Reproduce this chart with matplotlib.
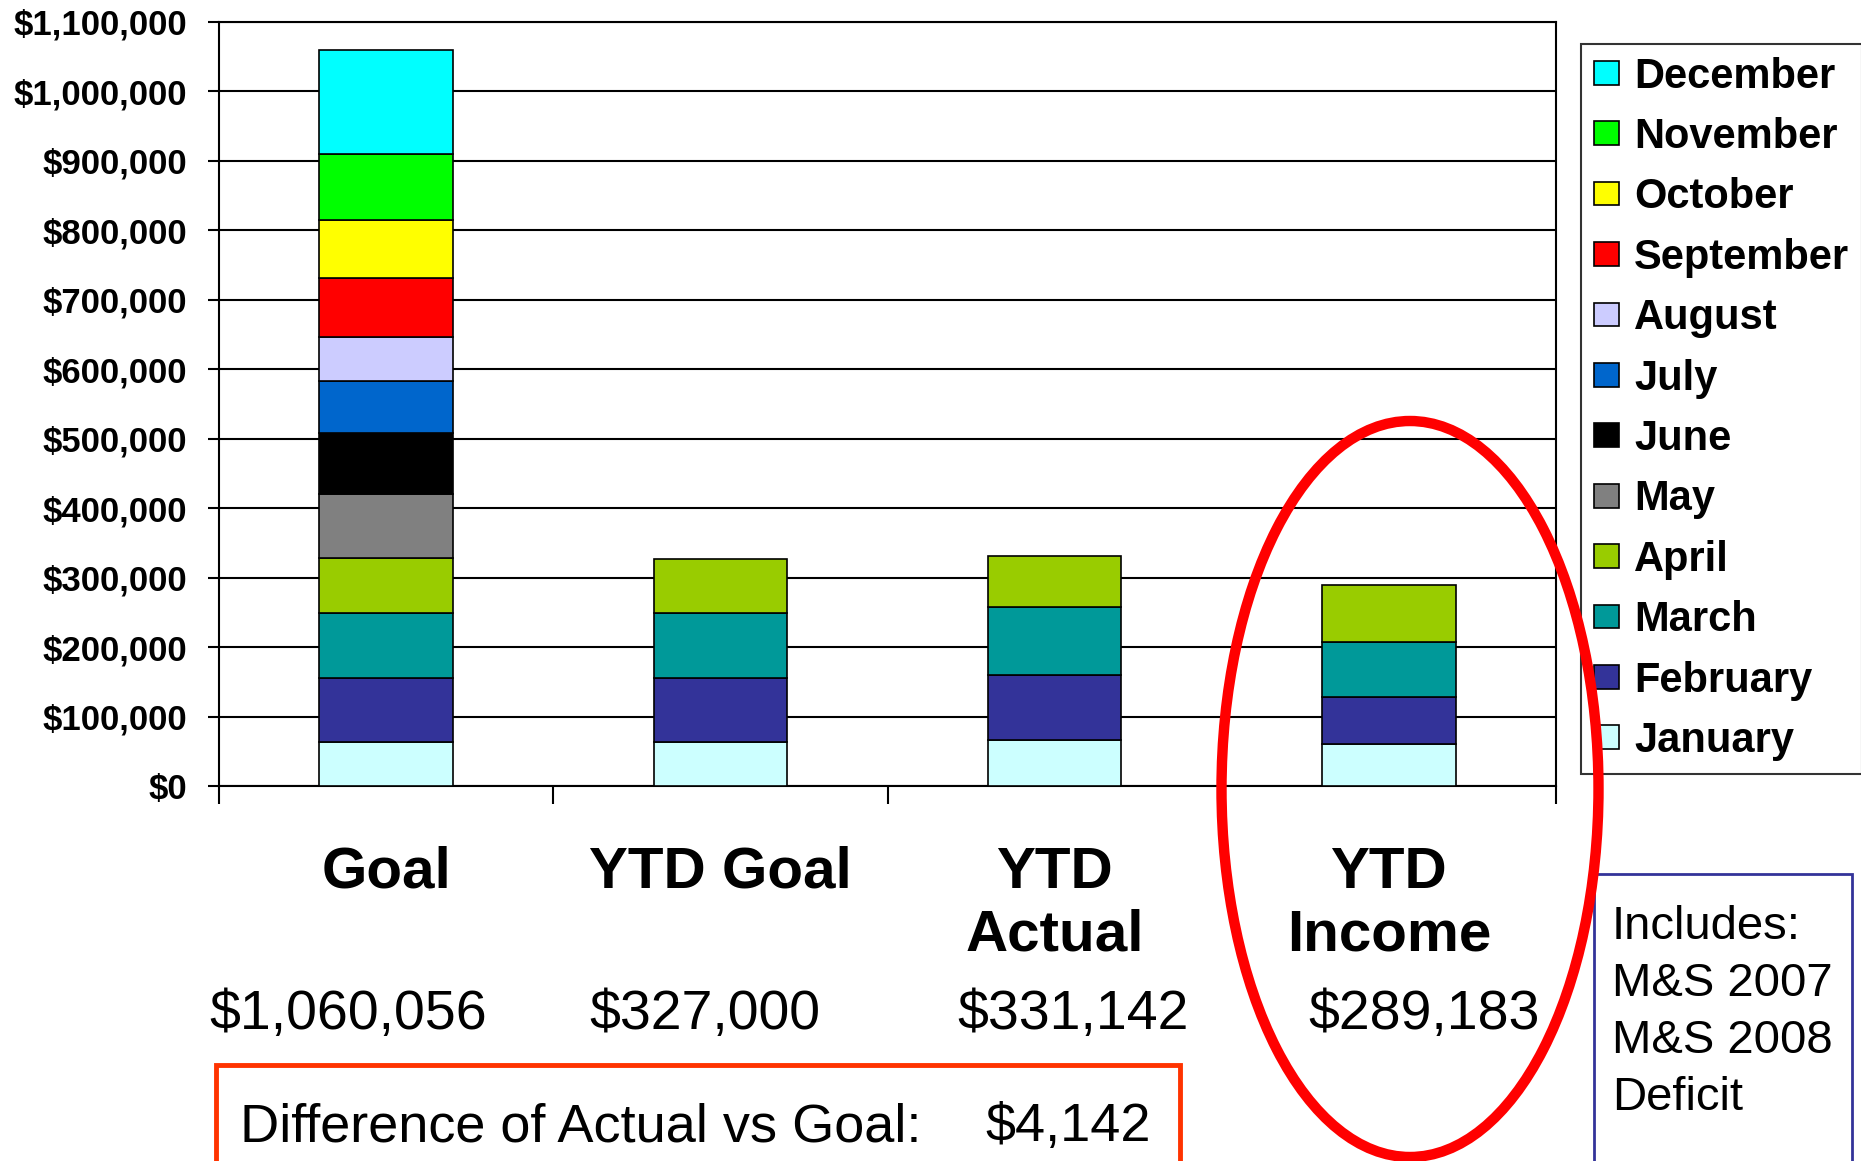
import matplotlib
matplotlib.use("Agg")
import matplotlib.pyplot as plt
from matplotlib.patches import Patch, Rectangle, Ellipse
from matplotlib.ticker import FuncFormatter

# --- DATA ---
MONTHS = ["January", "February", "March", "April", "May", "June",
          "July", "August", "September", "October", "November", "December"]
COLORS = ["#CCFFFF", "#333399", "#009999", "#99CC00", "#808080", "#000000",
          "#0066CC", "#CCCCFF", "#FF0000", "#FFFF00", "#00FF00", "#00FFFF"]

CATEGORIES = ["Goal", "YTD Goal", "YTD\nActual", "YTD\nIncome"]
TOTAL_LABELS = ["$1,060,056", "$327,000", "$331,142", "$289,183"]

goal = [64000, 92000, 93000, 79000, 92000, 88000, 75000, 64000, 85000, 83000, 95000, 150056]
ytd_goal = [64000, 92000, 93000, 78000]
ytd_actual = [66000, 94000, 98000, 73142]
ytd_income = [60000, 68000, 79000, 82183]

DIFF_TEXT = "Difference of Actual vs Goal:"
DIFF_VALUE = "$4,142"
NOTE_TEXT = "Includes:\nM&S 2007\nM&S 2008\nDeficit"

# --- LAYOUT (pixels of the 1861x1161 canvas) ---
W, H = 1861, 1161
FONT = "Liberation Sans"


def fx(x):
    return x / W


def fy(y):
    return 1 - y / H


plt.rcParams["font.family"] = [FONT, "DejaVu Sans"]

fig = plt.figure(figsize=(W / 100, H / 100), dpi=100)
ax = fig.add_axes([fx(219), fy(786), (1556 - 219) / W, (786 - 22) / H])

# stack the bars month by month
series = [goal, ytd_goal, ytd_actual, ytd_income]
bottoms = [0.0] * len(series)
for m, (month, color) in enumerate(zip(MONTHS, COLORS)):
    xs, hs, bs = [], [], []
    for i, s in enumerate(series):
        if m < len(s):
            xs.append(i)
            hs.append(s[m])
            bs.append(bottoms[i])
            bottoms[i] += s[m]
    if xs:
        ax.bar(xs, hs, bottom=bs, width=0.4, color=color,
               edgecolor="black", linewidth=1.2, zorder=3)

ax.set_xlim(-0.5, 3.5)
ax.set_ylim(0, 1100000)
ax.set_yticks(range(0, 1100001, 100000))
ax.yaxis.set_major_formatter(FuncFormatter(lambda v, p: f"${v:,.0f}"))
ax.grid(axis="y", color="black", linewidth=1.5, zorder=0)
ax.set_axisbelow(True)

for sp in ax.spines.values():
    sp.set_linewidth(1.5)
    sp.set_color("black")

ax.tick_params(axis="y", direction="out", length=8, width=1.5, pad=15,
               labelsize=25)
for lab in ax.get_yticklabels():
    lab.set_fontweight("bold")

# category labels under the bars, boundary ticks between them
ax.set_xticks(range(len(CATEGORIES)))
ax.set_xticklabels(CATEGORIES, fontsize=42, fontweight="bold", linespacing=1.2)
ax.tick_params(axis="x", which="major", length=0, pad=43)
ax.set_xticks([-0.5, 0.5, 1.5, 2.5, 3.5], minor=True)
ax.tick_params(axis="x", which="minor", direction="out", length=13, width=1.5)

# totals line
TOTAL_X = [348, 705, 1073, 1424]
for x, t in zip(TOTAL_X, TOTAL_LABELS):
    fig.text(fx(x), fy(1015), t, fontsize=40, ha="center", va="center")

# legend, months listed from December down
handles = [Patch(facecolor=c, edgecolor="black", linewidth=1.2, label=m)
           for m, c in zip(MONTHS, COLORS)][::-1]
leg = fig.legend(handles=handles, loc="upper left",
                 bbox_to_anchor=(fx(1581), fy(44)), frameon=True,
                 fancybox=False, shadow=False, borderpad=0.3,
                 handlelength=0.6, handleheight=0.5, handletextpad=0.38,
                 labelspacing=0.49, borderaxespad=0,
                 prop={"weight": "bold", "size": 30})
leg.get_frame().set_edgecolor("black")
leg.get_frame().set_linewidth(1.5)

# difference box
fig.add_artist(Rectangle((fx(216), fy(1180)), (1180 - 216) / W, (1180 - 1065) / H,
                         transform=fig.transFigure, fill=False,
                         edgecolor="#FF3300", linewidth=3.5))
fig.text(fx(240), fy(1127), DIFF_TEXT, fontsize=39, ha="left", va="center")
fig.text(fx(1151), fy(1127), DIFF_VALUE, fontsize=39, ha="right", va="center")

# notes box
fig.add_artist(Rectangle((fx(1594), fy(1180)), (1852 - 1594) / W, (1180 - 874) / H,
                         transform=fig.transFigure, fill=False,
                         edgecolor="#333399", linewidth=2))
fig.text(fx(1612), fy(905), NOTE_TEXT, fontsize=34, ha="left", va="top",
         linespacing=1.38)

# red ellipse around YTD Income
fig.add_artist(Ellipse((fx(1410), fy(789)), (1599 - 1222) / W, (1157 - 421) / H,
                       transform=fig.transFigure, fill=False,
                       edgecolor="#FF0000", linewidth=7.5, zorder=10))

fig.savefig("out.png", dpi=100)
